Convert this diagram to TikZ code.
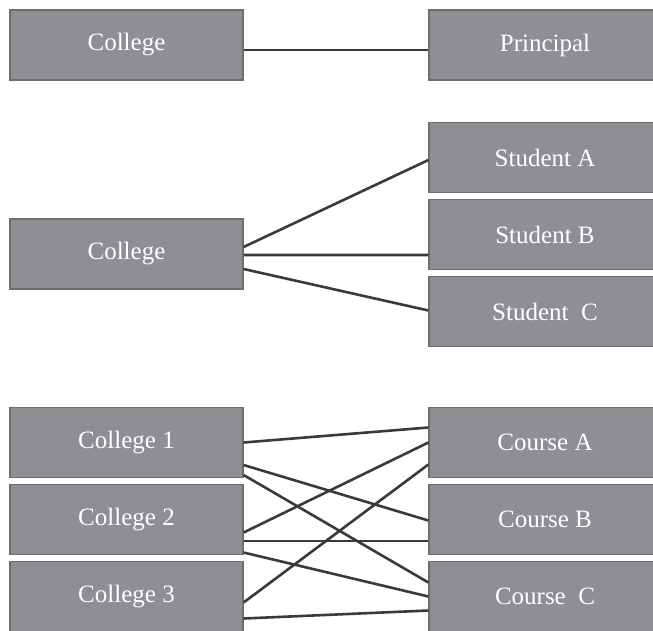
\documentclass[tikz,border=0pt]{standalone}
\usepackage{fontspec}
\setmainfont{Liberation Serif}
\usetikzlibrary{positioning}
\definecolor{cBox}{HTML}{8F8E93}
\definecolor{cEdge}{HTML}{6E6D72}
\definecolor{cLink}{HTML}{3A393D}
\tikzset{
  box/.style={draw=cEdge,line width=1.2pt,fill=cBox,minimum width=233pt,
              minimum height=70pt,inner sep=0pt,text=white,
              font=\fontsize{25}{30}\selectfont},
  rbox/.style={box,minimum width=232pt},
  link/.style={cLink,line width=2.6pt},
}

\begin{document}
\begin{tikzpicture}[x=1pt,y=-1pt,node distance=5.8pt]
  \clip (0,0) rectangle (653,630);
  % one to one
  \node[box](top) at (126.5,45){College};
  \node[rbox](pr) at (545,45){Principal};
  \draw[link] ([yshift=-5pt]top.east) -- ([yshift=-5pt]pr.west);
  % one to many
  \node[box](col) at (126.5,254){College};
  \node[rbox](sa) at (545,157.5){Student A};
  \node[rbox,below=of sa](sb){Student B};
  \node[rbox,below=of sb](sc){Student\ \ C};
  \foreach \da/\b/\db in {7/sa/-2.5,-1/sb/-20.5,-15/sc/1}{
     \draw[link] ([yshift=\da pt]col.east) -- ([yshift=\db pt]\b.west);}
  % many to many
  \node[box](c1) at (126.5,442.5){College 1};
  \node[box,below=of c1](c2){College 2};
  \node[box,below=of c2](c3){College 3};
  \node[rbox](ca) at (545,442.5){Course A};
  \node[rbox,below=of ca](cb){Course B};
  \node[rbox,below=of cb](cc){Course\ \ C};
  \foreach \a/\da/\b/\db in {c1/0/ca/15,c1/-22.5/cb/-1,c1/-32.5/cc/14,
     c2/-13/ca/0,c2/-21.5/cb/-21.5,c2/-33/cc/0,c3/-6/ca/-22,c3/-22/cc/-14}{
     \draw[link] ([yshift=\da pt]\a.east) -- ([yshift=\db pt]\b.west);}
\end{tikzpicture}
\end{document}
